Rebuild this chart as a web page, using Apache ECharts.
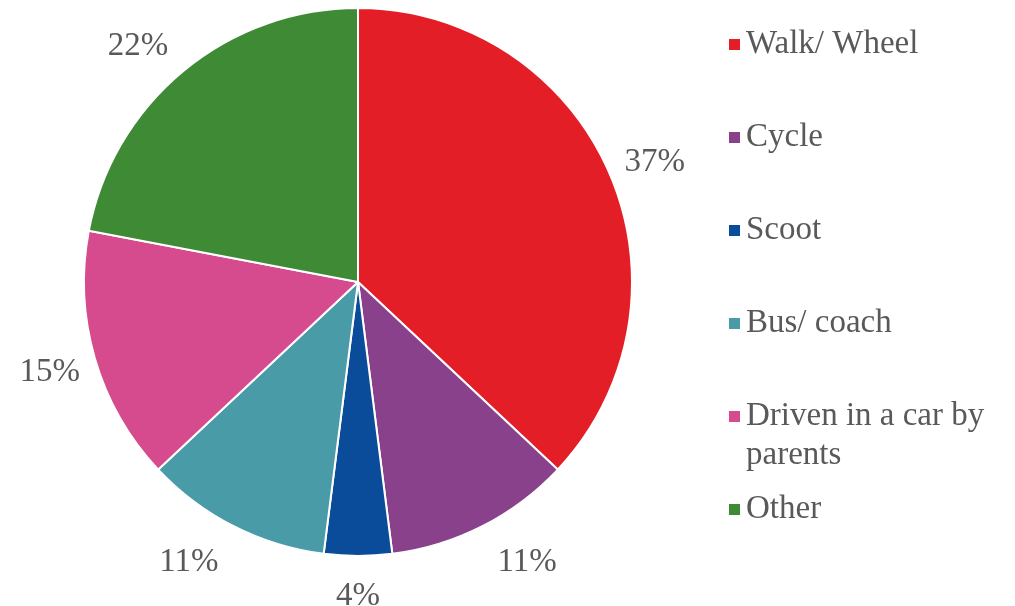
<!DOCTYPE html>
<html>
<head>
<meta charset="utf-8">
<script src="https://cdn.jsdelivr.net/npm/echarts@6/dist/echarts.min.js"></script>
<style>
  html, body { margin: 0; padding: 0; background: #fff; }
  #chart { width: 1015px; height: 606px; }
</style>
</head>
<body>
<div id="chart"></div>
<script>
    // data
    const categories = ['Walk/ Wheel', 'Cycle', 'Scoot', 'Bus/ coach', 'Driven in a car by parents', 'Other'];
    const shares = [37, 11, 4, 11, 15, 22];
    const colors = ['#E41E26', '#88418A', '#0A4B9A', '#4A9BA8', '#D64A8E', '#3E8A35'];

    const FONT = '"Liberation Serif", "Times New Roman", serif';
    const TEXT = '#595959';
    const LABEL_GAP = 20;

    const option = {
        color: colors,
        animation: false,
        legend: {
            orient: 'vertical',
            left: 722,
            top: 23,
            itemWidth: 13,
            itemHeight: 13,
            itemGap: 60,
            icon: 'rect',
            data: categories,
            formatter: function (name) {
                // second line of the long item is drawn separately so the marker stays on line one
                const txt = name === categories[4] ? 'Driven in a car by' : name;
                return '{t|' + txt + '}';
            },
            textStyle: {
                rich: {
                    t: {
                        fontFamily: FONT,
                        fontSize: 33,
                        lineHeight: 40,
                        color: TEXT
                    }
                }
            }
        },
        graphic: [
            {
                type: 'text',
                x: 746,
                y: 455,
                style: {
                    text: 'parents',
                    font: '33px ' + FONT,
                    fill: TEXT,
                    verticalAlign: 'middle'
                }
            }
        ],
        series: [
            {
                type: 'pie',
                center: [358, 282],
                radius: 274,
                startAngle: 90,
                clockwise: true,
                avoidLabelOverlap: false,
                itemStyle: {
                    borderColor: '#ffffff',
                    borderWidth: 2
                },
                label: {
                    show: true,
                    position: 'outside',
                    formatter: '{c}%',
                    fontFamily: FONT,
                    fontSize: 33,
                    color: TEXT,
                    overflow: 'none'
                },
                labelLine: {
                    show: true,
                    length: 15,
                    length2: 0,
                    lineStyle: { opacity: 0 }
                },
                // put each label box just outside the slice edge, pushed away on its outer side
                labelLayout: function (p) {
                    const pts = p.labelLinePoints;
                    if (!pts) return {};
                    const vx = pts[1][0] - pts[0][0];
                    const vy = pts[1][1] - pts[0][1];
                    const len = Math.hypot(vx, vy) || 1;
                    const nx = vx / len, ny = vy / len;
                    const w = p.labelRect.width, h = p.labelRect.height;
                    const sx = Math.abs(nx) < 0.05 ? 0 : Math.sign(nx);
                    return {
                        x: pts[0][0] + sx * (w / 2 + 15),
                        y: pts[0][1] + ny * (LABEL_GAP + h / 2) + 4,
                        align: 'center',
                        verticalAlign: 'middle'
                    };
                },
                emphasis: { scale: false },
                data: categories.map(function (name, i) {
                    return { name: name, value: shares[i] };
                })
            }
        ]
    };

    const chart = echarts.init(document.getElementById('chart'));
    chart.setOption(option);
</script>
</body>
</html>
